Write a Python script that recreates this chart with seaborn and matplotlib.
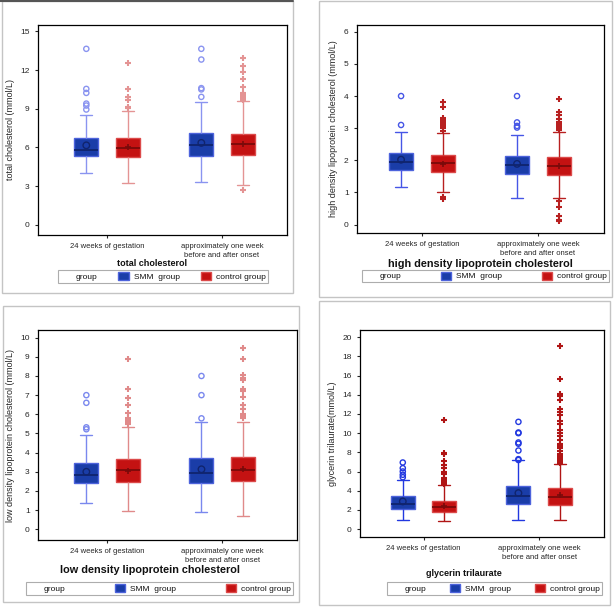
import numpy as np
import pandas as pd
import matplotlib
matplotlib.use("Agg")
import matplotlib.pyplot as plt
import matplotlib.patches as mpatches
import seaborn as sns

# ── Data ─────────────────────────────────────────────────────────────────────
TIMES = ["24 weeks of gestation", "approximately one week\nbefore and after onset"]
GROUPS = ["SMM  group", "control group"]

# box stats per time point: [whisker low, Q1, median, Q3, whisker high]
tc_smm_box = [[4.05, 5.36, 5.83, 6.74, 8.55], [3.29, 5.36, 6.17, 7.12, 9.51]]
tc_ctl_box = [[3.24, 5.26, 5.98, 6.74, 8.85], [3.10, 5.44, 6.24, 7.05, 9.59]]
tc_smm_mean = [6.16, 6.35]
tc_ctl_mean = [6.02, 6.30]
tc_smm_out = [[8.94, 9.25, 9.40, 10.23, 10.54, 13.65],
              [9.92, 10.50, 10.60, 12.82, 13.65]]
tc_ctl_out = [[9.07, 9.15, 9.71, 9.90, 10.54, 12.56],
              [2.67, 9.70, 9.85, 9.95, 10.05, 10.15, 10.25, 10.70, 11.27, 11.84, 12.30, 12.90]]

hdl_smm_box = [[1.17, 1.69, 1.96, 2.24, 2.87], [0.83, 1.58, 1.85, 2.14, 2.79]]
hdl_ctl_box = [[1.00, 1.64, 1.91, 2.17, 2.85], [0.83, 1.55, 1.82, 2.10, 2.88]]
hdl_smm_mean = [2.02, 1.89]
hdl_ctl_mean = [1.90, 1.83]
hdl_smm_out = [[3.10, 4.00], [3.02, 3.07, 3.18, 4.00]]
hdl_ctl_out = [[0.80, 0.86, 2.92, 3.00, 3.06, 3.12, 3.20, 3.26, 3.32, 3.67, 3.83],
               [0.10, 0.15, 0.26, 0.55, 0.72, 2.95, 3.00, 3.06, 3.12, 3.20, 3.30, 3.40, 3.49, 3.91]]

ldl_smm_box = [[1.36, 2.40, 2.83, 3.48, 4.92], [0.89, 2.40, 2.96, 3.70, 5.62]]
ldl_ctl_box = [[0.97, 2.49, 3.08, 3.65, 5.32], [0.70, 2.52, 3.10, 3.79, 5.62]]
ldl_smm_mean = [3.00, 3.13]
ldl_ctl_mean = [3.05, 3.15]
ldl_smm_out = [[5.22, 5.32, 6.60, 7.00], [5.79, 7.00, 8.00]]
ldl_ctl_out = [[5.50, 5.60, 5.70, 5.80, 6.05, 6.49, 6.83, 7.30, 8.87],
               [5.80, 5.90, 6.00, 6.30, 6.50, 6.90, 7.20, 7.30, 7.80, 7.90, 8.05, 8.87, 9.48]]

tg_smm_box = [[0.97, 2.08, 2.64, 3.40, 5.14], [0.90, 2.64, 3.40, 4.44, 7.15]]
tg_ctl_box = [[0.80, 1.74, 2.29, 2.88, 4.60], [0.97, 2.53, 3.33, 4.27, 6.77]]
tg_smm_mean = [2.88, 3.75]
tg_ctl_mean = [2.40, 3.60]
tg_smm_out = [[5.40, 5.66, 6.00, 6.35, 6.94],
              [7.20, 7.29, 8.19, 8.90, 9.03, 10.00, 10.07, 11.18]]
tg_ctl_out = [[4.70, 4.80, 4.90, 5.00, 5.10, 5.30, 5.70, 6.00, 6.40, 6.70, 7.12, 7.80, 7.92, 11.39],
              [6.90, 7.00, 7.20, 7.40, 7.60, 7.80, 8.10, 8.50, 8.70, 8.90, 9.30, 9.70, 10.00,
               10.30, 11.00, 11.30, 11.90, 12.20, 12.50, 13.50, 13.90, 14.10, 15.63, 19.13]]

# ── Style ────────────────────────────────────────────────────────────────────
W, H = 614, 608
BLUE_FILL, RED_FILL = "#1a3da8", "#c41212"
BLUE_EDGE, RED_EDGE = "#4d63dc", "#dc4a4a"
BLUE_MED, RED_MED = "#10246e", "#7a0a0a"

sns.set_theme(style="ticks")
plt.rcParams.update({
    "font.family": ["Liberation Sans", "DejaVu Sans"],
    "axes.edgecolor": "black",
    "axes.linewidth": 0.9,
    "xtick.major.size": 2.5,
    "ytick.major.size": 2.5,
    "xtick.major.width": 0.8,
    "ytick.major.width": 0.8,
    "xtick.labelsize": 5.5,
    "ytick.labelsize": 6,
    "text.color": "#111111",
})


def px(x, y):
    return x / W, 1 - y / H


def draw_panel(fig, spec):
    l, t, r, b = spec["axes"]
    ax = fig.add_axes([l / W, 1 - b / H, (r - l) / W, (b - t) / H])

    rows = []
    for g, boxes in zip(GROUPS, [spec["smm_box"], spec["ctl_box"]]):
        for tm, (lo, q1, med, q3, hi) in zip(TIMES, boxes):
            for v in (lo, q1, q1, med, q3, q3, hi):
                rows.append((tm, g, v))
    df = pd.DataFrame(rows, columns=["time", "group", "value"])

    looks = [
        (GROUPS[0], BLUE_FILL, BLUE_EDGE, BLUE_MED, spec["blue_line"]),
        (GROUPS[1], RED_FILL, RED_EDGE, RED_MED, spec["red_line"]),
    ]
    for g, fill, edge, med, wcol in looks:
        sns.boxplot(
            data=df[df["group"] == g], x="time", y="value", hue="group",
            order=TIMES, hue_order=GROUPS, palette={GROUPS[0]: BLUE_FILL, GROUPS[1]: RED_FILL},
            dodge=True, width=0.72, gap=0.42, whis=(0, 100), showfliers=False,
            saturation=1, linewidth=1.0, linecolor=edge, legend=False, ax=ax,
            boxprops={"facecolor": fill, "edgecolor": edge},
            whiskerprops={"color": wcol, "linewidth": 1.0},
            capprops={"color": wcol, "linewidth": 1.0},
            medianprops={"color": med, "linewidth": 1.3},
        )

    off = 0.18
    for i in range(len(TIMES)):
        xs = i - off
        ax.scatter([xs] * len(spec["smm_out"][i]), spec["smm_out"][i], s=14, marker="o",
                   facecolors="none", edgecolors=spec["blue_line"], linewidths=1.0, zorder=4)
        ax.scatter([xs], [spec["smm_mean"][i]], s=22, marker="o", facecolors="none",
                   edgecolors=BLUE_MED, linewidths=1.0, zorder=5)
        xc = i + off
        ax.scatter([xc] * len(spec["ctl_out"][i]), spec["ctl_out"][i], s=18, marker="+",
                   color=spec["red_line"], linewidths=1.5, zorder=4)
        ax.scatter([xc], [spec["ctl_mean"][i]], s=22, marker="+", color=RED_MED,
                   linewidths=1.2, zorder=5)

    ax.set_xlim(*spec["xlim"])
    ax.set_ylim(*spec["ylim"])
    ax.set_yticks(spec["yticks"])
    ax.set_xticks(range(len(TIMES)))
    ax.set_xticklabels(TIMES, linespacing=1.3)
    ax.set_xlabel("")
    ax.set_ylabel(spec["ylabel"], fontsize=spec["ylabel_fs"], labelpad=4)
    for s in ax.spines.values():
        s.set_visible(True)
    ax.grid(False)

    # panel caption and legend
    cx, cy = spec["title_xy"]
    fig.text(*px(cx, cy), spec["title"], ha="center", va="center",
             fontsize=spec["title_fs"], fontweight="bold")
    x0, y0, x1, y1 = spec["legend_box"]
    handles = [
        mpatches.Patch(color="none", label="group"),
        mpatches.Patch(facecolor=BLUE_FILL, edgecolor=BLUE_EDGE, label=GROUPS[0]),
        mpatches.Patch(facecolor=RED_FILL, edgecolor=RED_EDGE, label=GROUPS[1]),
    ]
    leg = fig.legend(handles=handles, ncol=3, mode="expand", loc="center",
                     bbox_to_anchor=(x0 / W, 1 - y1 / H, (x1 - x0) / W, (y1 - y0) / H),
                     bbox_transform=fig.transFigure, fontsize=6, frameon=True,
                     fancybox=False, borderaxespad=0, borderpad=0.2,
                     handlelength=1.3, handleheight=1.1, handletextpad=0.6)
    leg.get_frame().set_edgecolor("#999999")
    leg.get_frame().set_linewidth(0.8)

    fx0, fy0, fx1, fy1 = spec["frame"]
    fig.patches.append(mpatches.Rectangle(
        (fx0 / W, 1 - fy1 / H), (fx1 - fx0) / W, (fy1 - fy0) / H,
        transform=fig.transFigure, fill=False, edgecolor="#c4c4c4", linewidth=1.0))


PANELS = [
    dict(axes=(38, 25, 287, 235), xlim=(-0.6, 1.565), ylim=(-0.8, 15.5), yticks=[0, 3, 6, 9, 12, 15],
         smm_box=tc_smm_box, ctl_box=tc_ctl_box, smm_mean=tc_smm_mean, ctl_mean=tc_ctl_mean,
         smm_out=tc_smm_out, ctl_out=tc_ctl_out, blue_line="#8a94f0", red_line="#e49494",
         ylabel="total cholesterol (mmol/L)", ylabel_fs=6.5,
         title="total cholesterol", title_xy=(152, 263), title_fs=6.5,
         legend_box=(58, 270, 268, 283), frame=(2, 1, 293, 293)),
    dict(axes=(357, 25, 604, 233), xlim=(-0.56, 1.57), ylim=(-0.26, 6.21), yticks=[0, 1, 2, 3, 4, 5, 6],
         smm_box=hdl_smm_box, ctl_box=hdl_ctl_box, smm_mean=hdl_smm_mean, ctl_mean=hdl_ctl_mean,
         smm_out=hdl_smm_out, ctl_out=hdl_ctl_out, blue_line="#4656e6", red_line="#b82020",
         ylabel="high density lipoprotein cholesterol (mmol/L)", ylabel_fs=6.5,
         title="high density lipoprotein cholesterol", title_xy=(480, 264), title_fs=7.8,
         legend_box=(362, 270, 609, 282), frame=(319, 1, 612, 297)),
    dict(axes=(38, 330, 297, 540), xlim=(-0.6, 1.65), ylim=(-0.56, 10.4), yticks=list(range(11)),
         smm_box=ldl_smm_box, ctl_box=ldl_ctl_box, smm_mean=ldl_smm_mean, ctl_mean=ldl_ctl_mean,
         smm_out=ldl_smm_out, ctl_out=ldl_ctl_out, blue_line="#7a88ee", red_line="#e08a8a",
         ylabel="low density lipoprotein cholesterol (mmol/L)", ylabel_fs=6.5,
         title="low density lipoprotein cholesterol", title_xy=(150, 570), title_fs=7.8,
         legend_box=(26, 580, 293, 597), frame=(3, 306, 299, 602)),
    dict(axes=(360, 330, 604, 537), xlim=(-0.55, 1.56), ylim=(-0.83, 20.76), yticks=list(range(0, 21, 2)),
         smm_box=tg_smm_box, ctl_box=tg_ctl_box, smm_mean=tg_smm_mean, ctl_mean=tg_ctl_mean,
         smm_out=tg_smm_out, ctl_out=tg_ctl_out, blue_line="#2238e0", red_line="#b01515",
         ylabel="glycerin trilaurate(mmol/L)", ylabel_fs=6.5,
         title="glycerin trilaurate", title_xy=(464, 573), title_fs=6.5,
         legend_box=(387, 582, 602, 595), frame=(319, 301, 610, 605)),
]

fig = plt.figure(figsize=(W / 100, H / 100), dpi=100, facecolor="white")
for spec in PANELS:
    draw_panel(fig, spec)

# dark rule along the top edge of the first panel, as in the scan
fig.add_artist(plt.Line2D([0, 293 / W], [1 - 1 / H, 1 - 1 / H], transform=fig.transFigure,
                          color="#555555", linewidth=1.5))

fig.savefig("out.png", dpi=100, facecolor="white")
